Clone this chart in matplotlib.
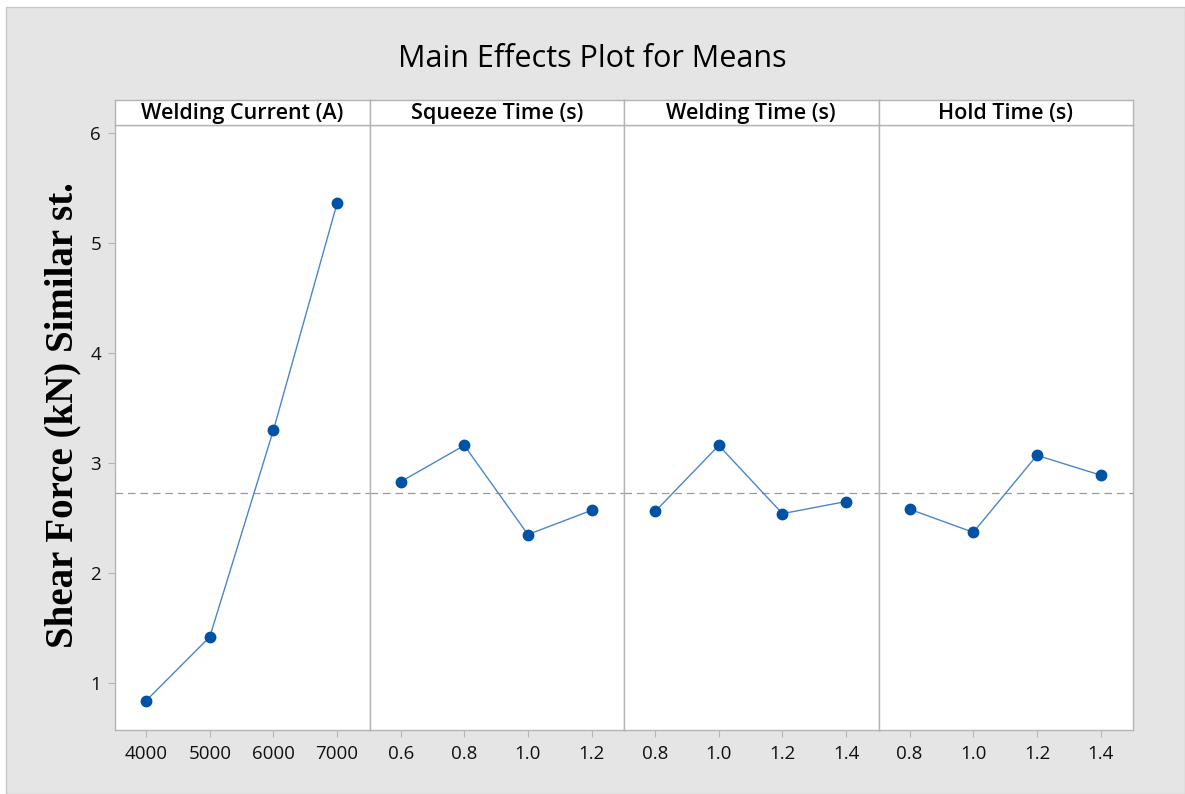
import numpy as np
import matplotlib.pyplot as plt
from matplotlib.patches import Rectangle

# Main effects data (means of shear force, kN)
factors = ['Welding Current (A)', 'Squeeze Time (s)', 'Welding Time (s)', 'Hold Time (s)']
current_levels = ['4000', '5000', '6000', '7000']
current_means = [0.84, 1.42, 3.30, 5.36]
squeeze_levels = ['0.6', '0.8', '1.0', '1.2']
squeeze_means = [2.83, 3.16, 2.35, 2.57]
weldtime_levels = ['0.8', '1.0', '1.2', '1.4']
weldtime_means = [2.56, 3.16, 2.54, 2.65]
hold_levels = ['0.8', '1.0', '1.2', '1.4']
hold_means = [2.58, 2.37, 3.07, 2.89]

levels = [current_levels, squeeze_levels, weldtime_levels, hold_levels]
means = [current_means, squeeze_means, weldtime_means, hold_means]
grand_mean = np.mean(current_means)

plt.rcParams['font.family'] = ['Open Sans', 'DejaVu Sans']

W, H = 1185, 794
fig = plt.figure(figsize=(W / 100, H / 100), dpi=100, facecolor='white')
fig.patches.append(Rectangle((6 / W, 0), 1 - 6 / W, 1 - 7 / H, transform=fig.transFigure,
                             facecolor='#e5e5e5', edgecolor='#c8c8c8', linewidth=1, zorder=-10))

left, right = 115 / W, 1133 / W
bottom, top = 1 - 730 / H, 1 - 125 / H
strip_h = 25 / H
pw = (right - left) / 4
frame_col = '#b4b4b4'

for i in range(4):
    ax = fig.add_axes([left + i * pw, bottom, pw, top - bottom])
    x = np.arange(len(levels[i]))
    ax.axhline(grand_mean, color='#9a9a9a', linestyle=(0, (6, 4)), linewidth=0.9, zorder=1)
    ax.plot(x, means[i], color='#4a86c8', linewidth=1.0, zorder=2)
    ax.plot(x, means[i], 'o', color='#0052a5', markersize=7.5, zorder=3)
    ax.set_xlim(-0.49, 3.51)
    ax.set_ylim(0.573, 6.073)
    ax.set_xticks(x)
    ax.set_xticklabels(levels[i], fontsize=13.5, color='#111111')
    ax.tick_params(axis='x', length=5, color=frame_col, pad=6)
    if i == 0:
        ax.set_yticks([1, 2, 3, 4, 5, 6])
        ax.set_yticklabels(['1', '2', '3', '4', '5', '6'], fontsize=13.5, color='#111111')
        ax.tick_params(axis='y', length=5, color=frame_col, pad=5)
    else:
        ax.set_yticks([])
    for s in ax.spines.values():
        s.set_color(frame_col)
        s.set_linewidth(1.0)
    # header strip
    sax = fig.add_axes([left + i * pw, top, pw, strip_h])
    sax.set_xticks([])
    sax.set_yticks([])
    for s in sax.spines.values():
        s.set_color(frame_col)
        s.set_linewidth(1.0)
    sax.text(0.5, 0.45, factors[i], ha='center', va='center', fontsize=15.5,
             fontweight='semibold', transform=sax.transAxes)

fig.text(0.5, 1 - 59 / H, 'Main Effects Plot for Means', ha='center', va='center',
         fontsize=22, fontweight='medium')
fig.text(63 / W, 1 - 415 / H, 'Shear Force (kN) Similar st.', rotation=90,
         ha='center', va='center', fontsize=28, fontweight='bold', family='Liberation Serif')

fig.savefig('out.png', dpi=100, facecolor=fig.get_facecolor())
